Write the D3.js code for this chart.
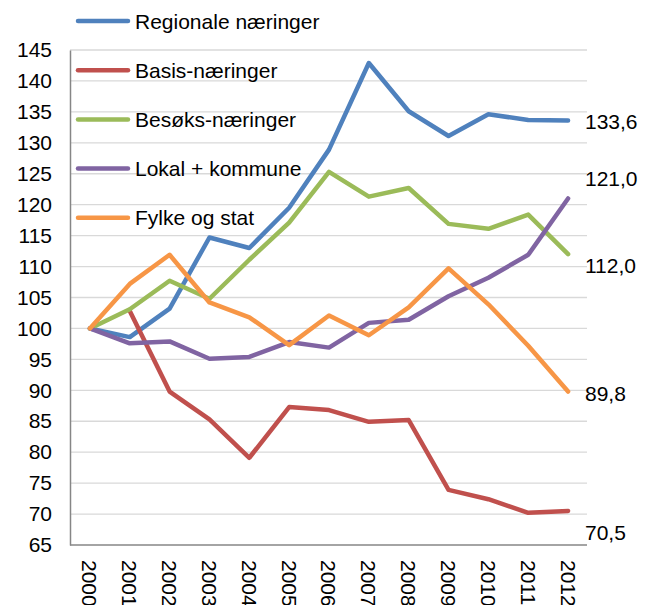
<!DOCTYPE html>
<html lang="no">
<head>
<meta charset="UTF-8">
<title>Indeks</title>
<style>
  body { margin: 0; background: #fff; }
  text { font-family: "Liberation Sans", Arial, sans-serif; fill: #000; }
</style>
</head>
<body>
<script src="https://d3js.org/d3.v7.min.js"></script>
<div id="svg"></div>
<script>
// data (index, 2000 = 100)
const years = ["2000", "2001", "2002", "2003", "2004", "2005", "2006", "2007", "2008", "2009", "2010", "2011", "2012"];
const regionale = [100, 98.6, 103.2, 114.7, 113.0, 119.5, 128.9, 142.9, 135.1, 131.1, 134.6, 133.7, 133.6];
const basis = [null, 102.8, 89.8, 85.3, 79.1, 87.3, 86.8, 84.9, 85.2, 73.9, 72.4, 70.2, 70.5];
const besoks = [100, 103.1, 107.7, 104.8, 111.1, 117.1, 125.3, 121.3, 122.7, 116.9, 116.1, 118.4, 112.0];
const lokal = [100, 97.6, 97.9, 95.1, 95.4, 97.8, 96.9, 100.9, 101.4, 105.2, 108.2, 111.9, 121.0];
const fylke = [100, 107.2, 111.9, 104.2, 101.8, 97.3, 102.1, 98.9, 103.4, 109.7, 103.9, 97.2, 89.8];
const seriesNames = ["Regionale næringer", "Basis-næringer", "Besøks-næringer", "Lokal + kommune", "Fylke og stat"];
const yTicks = [65, 70, 75, 80, 85, 90, 95, 100, 105, 110, 115, 120, 125, 130, 135, 140, 145];
// end-of-line value labels and the index level they sit at
const endLabels = ["133,6", "121,0", "112,0", "89,8", "70,5"];
const endLabelLevel = [133.4, 124.2, 110.2, 89.5, 67.1];

const series = [regionale, basis, besoks, lokal, fylke];
const colors = ["#4F81BD", "#C0504D", "#9BBB59", "#8064A2", "#F79646"];

const width = 648, height = 605;
const plot = { left: 70, right: 588, top: 50, bottom: 545 };

const svg = d3.select("#svg").append("svg").attr("width", width).attr("height", height);

const x = d3.scaleBand().domain(years).range([plot.left, plot.right]);
const y = d3.scaleLinear().domain([65, 145]).range([plot.bottom, plot.top]);
const cx = d => x(d) + x.bandwidth() / 2;

// gridlines
svg.append("g").selectAll("line").data(yTicks.slice(1)).enter().append("line")
  .attr("x1", plot.left).attr("x2", plot.right - 1)
  .attr("y1", d => y(d)).attr("y2", d => y(d))
  .attr("stroke", "#D9D9D9").attr("stroke-width", 1.3);

// y axis
const gy = svg.append("g").attr("transform", `translate(${plot.left},0)`)
  .call(d3.axisLeft(y).tickValues(yTicks).tickSize(0).tickPadding(18));
gy.select(".domain").attr("stroke", "#868686").attr("stroke-width", 1.5);
gy.selectAll("text").style("font-size", "21px").style("font-family", "Liberation Sans, Arial, sans-serif");

// x axis with rotated year labels
const gx = svg.append("g").attr("transform", `translate(0,${plot.bottom})`)
  .call(d3.axisBottom(x).tickSize(0).tickSizeOuter(0));
gx.select(".domain").attr("stroke", "#868686").attr("stroke-width", 1.5)
  .attr("d", `M${plot.left},0H${plot.right - 1}`);
gx.selectAll("text")
  .attr("transform", "rotate(90)")
  .attr("x", 15).attr("y", 0).attr("dy", "0.36em")
  .attr("text-anchor", "start")
  .style("font-size", "21px").style("font-family", "Liberation Sans, Arial, sans-serif");

// lines
const line = d3.line()
  .defined(d => d != null)
  .x((d, i) => cx(years[i]))
  .y(d => y(d));

for (let i = 0; i < series.length; i++) {
  svg.append("path").attr("d", line(series[i]))
    .attr("fill", "none").attr("stroke", colors[i]).attr("stroke-width", 4.5)
    .attr("stroke-linejoin", "round").attr("stroke-linecap", "round");
}

// end labels
svg.append("g").selectAll("text").data(endLabels).enter().append("text")
  .attr("x", 585).attr("y", (d, i) => y(endLabelLevel[i])).attr("dy", "0.36em")
  .style("font-size", "21px").text(d => d);

// legend
const legend = svg.append("g").selectAll("g").data(seriesNames).enter().append("g")
  .attr("transform", (d, i) => `translate(0,${21 + i * 49.2})`);
legend.append("line").attr("x1", 78).attr("x2", 128).attr("y1", 0).attr("y2", 0)
  .attr("stroke", (d, i) => colors[i]).attr("stroke-width", 4.5).attr("stroke-linecap", "round");
legend.append("text").attr("x", 135).attr("y", 0).attr("dy", "0.36em")
  .style("font-size", "21px").text(d => d);
</script>
</body>
</html>
